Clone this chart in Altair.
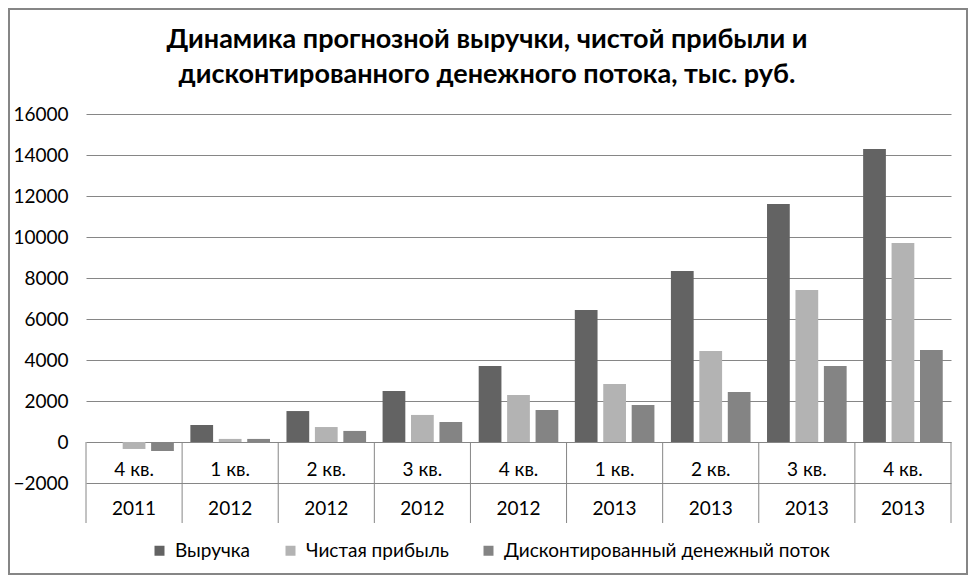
import altair as alt
import pandas as pd

quarters = ["4 кв.", "1 кв.", "2 кв.", "3 кв.", "4 кв.", "1 кв.", "2 кв.", "3 кв.", "4 кв."]
years = ["2011", "2012", "2012", "2012", "2012", "2013", "2013", "2013", "2013"]
revenue = [0, 830, 1510, 2490, 3710, 6440, 8340, 11610, 14290]
net_profit = [-340, 150, 730, 1320, 2290, 2830, 4440, 7415, 9710]
dcf = [-440, 150, 540, 975, 1560, 1805, 2440, 3710, 4490]

series_names = ["Выручка", "Чистая прибыль", "Дисконтированный денежный поток"]
series_colors = ["#636363", "#b3b3b3", "#848484"]
title_lines = ["Динамика прогнозной выручки, чистой прибыли и",
               "дисконтированного денежного потока, тыс. руб."]
y_ticks = list(range(-2000, 16001, 2000))

cats = [str(i) for i in range(len(quarters))]
rows = []
for name, vals in zip(series_names, [revenue, net_profit, dcf]):
    for c, q, yv, v in zip(cats, quarters, years, vals):
        rows.append({"cat": c, "quarter": q, "year": yv, "series": name, "value": v})
df = pd.DataFrame(rows)
cat_df = pd.DataFrame({"cat": cats, "quarter": quarters, "year": years})
last_df = pd.DataFrame({"cat": [cats[-1]]})

W, H = 865, 369
FONT = "Lato"
GRID = "#868686"

xscale = alt.Scale(domain=cats, paddingInner=0, paddingOuter=0)
yscale = alt.Scale(domain=[-2000, 16000], nice=False)

bars = alt.Chart(df).mark_bar().encode(
    x=alt.X("cat:N", scale=xscale, axis=None),
    xOffset=alt.XOffset("series:N", sort=series_names,
                        scale=alt.Scale(domain=series_names, paddingInner=0.2, paddingOuter=0.29)),
    y=alt.Y("value:Q", scale=yscale,
            axis=alt.Axis(values=y_ticks, format="d", title=None, grid=True, gridColor=GRID,
                          gridWidth=1, domain=False, ticks=False, labelFont=FONT, labelFontSize=19,
                          labelColor="#000000", labelPadding=18)),
    color=alt.Color("series:N", sort=series_names,
                    scale=alt.Scale(domain=series_names, range=series_colors),
                    legend=alt.Legend(title=None, orient="none", legendX=64, legendY=427,
                                      direction="horizontal", symbolType="square",
                                      symbolSize=100, symbolStrokeWidth=0, labelLimit=0,
                                      labelFont=FONT, labelFontSize=19, labelColor="#000000",
                                      columnPadding=30, labelOffset=6, padding=0)),
)

seps = alt.Chart(cat_df).mark_rule(color=GRID, strokeWidth=1).encode(
    x=alt.X("cat:N", scale=xscale, axis=None, bandPosition=0),
    y=alt.datum(0, scale=yscale),
    y2=alt.value(409),
)
sep_last = alt.Chart(last_df).mark_rule(color=GRID, strokeWidth=1).encode(
    x=alt.X("cat:N", scale=xscale, axis=None, bandPosition=1),
    y=alt.datum(0, scale=yscale),
    y2=alt.value(409),
)

q_text = alt.Chart(cat_df).mark_text(font=FONT, fontSize=19, color="#000000", baseline="middle").encode(
    x=alt.X("cat:N", scale=xscale, axis=None),
    y=alt.value(356),
    text="quarter:N",
)
y_text = alt.Chart(cat_df).mark_text(font=FONT, fontSize=19, color="#000000", baseline="middle").encode(
    x=alt.X("cat:N", scale=xscale, axis=None),
    y=alt.value(395),
    text="year:N",
)

one = pd.DataFrame({"a": [0]})
title1 = alt.Chart(one).mark_text(font=FONT, fontSize=27, fontWeight="bold", color="#000000",
                                  baseline="middle", align="center").encode(
    x=alt.value(401), y=alt.value(-74), text=alt.value(title_lines[0]))
title2 = alt.Chart(one).mark_text(font=FONT, fontSize=27, fontWeight="bold", color="#000000",
                                  baseline="middle", align="center").encode(
    x=alt.value(401), y=alt.value(-39), text=alt.value(title_lines[1]))

border = alt.Chart(one).mark_rect(fill=None, stroke=GRID, strokeWidth=2).encode(
    x=alt.value(-77), x2=alt.value(881), y=alt.value(-105), y2=alt.value(460)
)

chart = alt.layer(border, bars, seps, sep_last, q_text, y_text, title1, title2).properties(
    width=W, height=H,
    autosize=alt.AutoSizeParams(type="none"),
    padding={"left": 78, "top": 106, "right": 17, "bottom": 92},
    background="#ffffff",
).configure_view(stroke=None)

chart.save("out.html", embed_options={"renderer": "svg", "actions": False})
